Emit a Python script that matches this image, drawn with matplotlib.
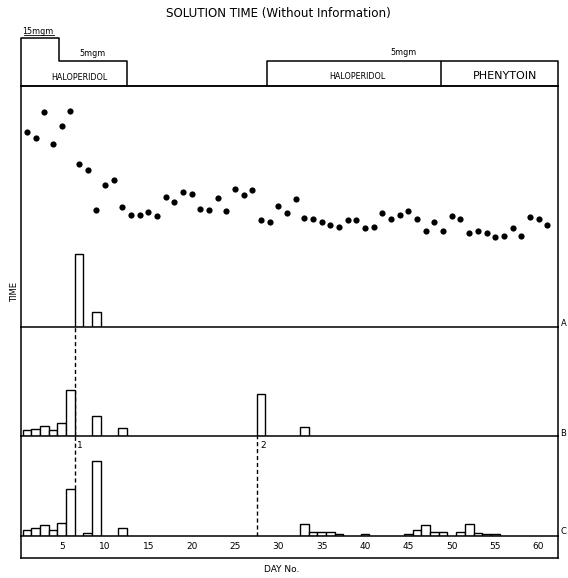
import matplotlib
matplotlib.use("Agg")
import matplotlib.pyplot as plt

# ---------------- data ----------------
days = list(range(1, 62))
solution_time = [195.3, 188.7, 214.7, 183.3, 201.3, 215.7, 163.3, 156.7, 117.3, 142,
                 147, 120, 112.3, 112.3, 115.3, 111.3, 130, 124.7, 135, 133,
                 118, 116.7, 129, 116, 138, 131.7, 136.7, 106.7, 105, 120.7,
                 114.3, 128, 109, 107.7, 104.7, 102, 100, 106.7, 106.7, 99,
                 100, 114, 107.7, 111.7, 116.3, 108, 96.3, 104.7, 95.7, 111,
                 108, 94, 96.3, 94.3, 90, 91.3, 98.7, 91, 110.3, 108, 102.3]

A_days = [7, 9]
A_vals = [73, 15]

B_days = [1, 2, 3, 4, 5, 6, 9, 12, 28, 33]
B_vals = [5.7, 7, 9.7, 5.7, 12.7, 46, 19.7, 7.7, 42, 8.7]

C_days = [1, 2, 3, 4, 5, 6, 8, 9, 12, 33, 34, 35, 36, 37, 40, 45, 46, 47, 48, 49,
          51, 52, 53, 54, 55]
C_vals = [5.7, 7.7, 10.3, 5.7, 13, 46.7, 2.5, 74.7, 7.7, 12, 3.3, 3.3, 3.3, 1.7,
          1.7, 1.7, 5.7, 10.7, 4, 4, 4, 11.7, 2.7, 1.7, 1.5]

tick_days = [5, 10, 15, 20, 25, 30, 35, 40, 45, 50, 55, 60]
tick_labels = [str(d) for d in tick_days]

# treatment header boundaries (days)
x_left, x_right = 0.31, 62.28
dose15_end = 4.7
halo1_end = 12.5
halo2_start = 28.7
phen_start = 48.75
level15, level5 = 47.7, 25.3

event_days = [6.5, 27.5]
event_labels = ["1", "2"]

# ---------------- figure ----------------
W, H = 568, 578
fig = plt.figure(figsize=(W / 100, H / 100), dpi=100)

def fy(py):
    return 1 - py / H

L = 21 / W
Wd = (558.3 - 21) / W

def mk(top, bot):
    return fig.add_axes([L, fy(bot), Wd, (bot - top) / H])

ax_h = mk(36, 86)
ax_t = mk(86, 327)
ax_b = mk(327, 436)
ax_c = mk(436, 535.7)
ax_s = mk(535.7, 557.7)

lw = 1.1
for ax in (ax_h, ax_t, ax_b, ax_c, ax_s):
    ax.set_xlim(x_left, x_right)
    ax.set_xticks([])
    ax.set_yticks([])
    ax.patch.set_alpha(0)
    for s in ax.spines.values():
        s.set_linewidth(lw)
        s.set_zorder(5)

narrow = ["Liberation Sans Narrow", "DejaVu Sans"]

# header
ax_h.set_ylim(0, 50)
for s in ("left", "right", "top"):
    ax_h.spines[s].set_visible(False)
kw = dict(color="black", lw=lw, clip_on=False, solid_capstyle="butt")
ax_h.plot([x_left, x_left, dose15_end, dose15_end, halo1_end, halo1_end],
          [0, level15, level15, level5, level5, 0], **kw)
ax_h.plot([halo2_start, halo2_start, x_right, x_right], [0, level5, level5, 0], **kw)
ax_h.plot([phen_start, phen_start], [0, level5], **kw)

small = dict(fontsize=5.8, family=narrow, ha="center", va="center", clip_on=False)
ax_h.text(2.27, 54, "15mgm", **small)
ax_h.plot([0.6, 4.1], [51.5, 51.5], color="black", lw=0.6, clip_on=False)
ax_h.text(8.6, 33, "5mgm", **small)
ax_h.text(44.4, 33.3, "5mgm", **small)
ax_h.text(7.1, 8.5, "HALOPERIDOL", **small)
ax_h.text(39.1, 9.3, "HALOPERIDOL", **small)
ax_h.text(56.1, 10, "PHENYTOIN", fontsize=8, family=narrow,
          ha="center", va="center")

fig.text(278 / W, fy(14), "SOLUTION TIME (Without Information)",
         fontsize=8.6, ha="center", va="center")

# top panel: scatter + A bars
ax_t.set_ylim(0, 241)
ax_t.scatter(days, solution_time, s=20, color="black", zorder=3, linewidths=0)
bar_kw = dict(width=1.0, facecolor="white", edgecolor="black", linewidth=1.0, zorder=2)
ax_t.bar(A_days, A_vals, **bar_kw)

# B panel
ax_b.set_ylim(0, 109)
ax_b.spines["top"].set_visible(False)
ax_b.bar(B_days, B_vals, **bar_kw)

# C panel
ax_c.set_ylim(0, 99.7)
ax_c.spines["top"].set_visible(False)
ax_c.bar(C_days, C_vals, **bar_kw)

# strip with day labels
ax_s.set_ylim(0, 22)
ax_s.spines["top"].set_visible(False)
for d, lab in zip(tick_days, tick_labels):
    ax_s.text(d, 11, lab, fontsize=6.5, family=narrow, ha="center", va="center")

# dashed event lines
dash = dict(color="black", lw=1.0, linestyle=(0, (3, 2)), zorder=1)
ax_b.axvline(event_days[0], **dash)
ax_c.axvline(event_days[0], ymin=46.7 / 99.7, ymax=1, **dash)
ax_c.axvline(event_days[1], **dash)
ax_c.text(event_days[0] + 0.6, 89.7, event_labels[0], fontsize=6.5,
          family=narrow, ha="center", va="center")
ax_c.text(event_days[1] + 0.7, 89.7, event_labels[1], fontsize=6.5,
          family=narrow, ha="center", va="center")

# side labels
fig.text(15 / W, fy(292), "TIME", rotation=90, fontsize=6,
         ha="center", va="center")
fig.text(282 / W, fy(569), "DAY No.", fontsize=6.5, family=narrow,
         ha="center", va="center")
for lab, py in (("A", 324), ("B", 434), ("C", 531)):
    fig.text(560.5 / W, fy(py), lab, fontsize=6, ha="left", va="center")

fig.savefig("out.png", dpi=100)
